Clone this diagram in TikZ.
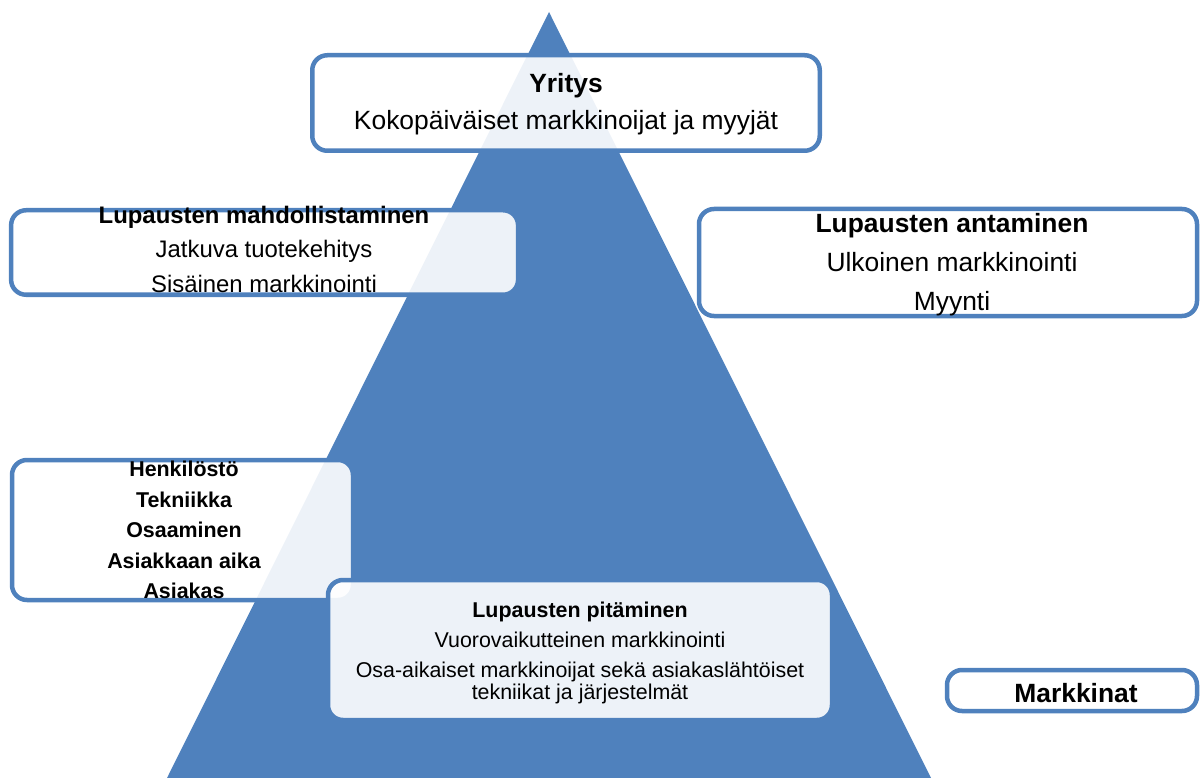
\documentclass[tikz,border=0pt]{standalone}
\usepackage{fontspec}
\setmainfont{Liberation Sans}
\definecolor{pyramid}{HTML}{4F81BD}
\begin{document}
\begin{tikzpicture}[x=1pt,y=-1pt,
  panel/.style={draw=pyramid, line width=4.5pt, fill=white, fill opacity=0.9,
    rounded corners=15pt, inner sep=0pt, rectangle},
  txt/.style={anchor=base, inner sep=0pt, text=black},
  big/.style={txt, font=\fontsize{26.4}{30}\selectfont},
  bigb/.style={txt, font=\fontsize{26.4}{30}\selectfont\bfseries},
  mid/.style={txt, font=\fontsize{23.9}{27}\selectfont},
  midb/.style={txt, font=\fontsize{23.9}{27}\selectfont\bfseries},
  small/.style={txt, font=\fontsize{21.4}{22}\selectfont},
  smallb/.style={txt, font=\fontsize{21.4}{22}\selectfont\bfseries},
]
\useasboundingbox (0,0) rectangle (1200,778);

% the pyramid
\coordinate (apex) at (549,12);
\coordinate (baseL) at (167,778);
\coordinate (baseR) at (931,778);
\fill[pyramid] (apex) -- (baseR) -- (baseL) -- cycle;

% panels
\node[panel, minimum width=507.5pt, minimum height=95.5pt] (yritysbox) at (566,103) {};
\node[panel, minimum width=507pt, minimum height=84.5pt] (mahdbox) at (264.6,252.5) {};
\node[panel, minimum width=498pt, minimum height=107pt] (antbox) at (948,262.5) {};
\node[panel, minimum width=341pt, minimum height=140pt] (resbox) at (182.5,530) {};
\node[panel, minimum width=504pt, minimum height=140pt] (pitbox) at (580,650) {};
\node[panel, minimum width=250pt, minimum height=41pt] (markbox) at (1072,690.5) {};

% company
\node[bigb] (yritys) at (566,93) {Yritys};
\node[big] (kokop) at (566,130) {Kokopäiväiset markkinoijat ja myyjät};

% enabling promises
\node[midb] (mahd) at (264,224) {Lupausten mahdollistaminen};
\node[mid] (jatk) at (264,258) {Jatkuva tuotekehitys};
\node[mid] (sisa) at (264,292) {Sisäinen markkinointi};

% making promises
\node[bigb] (ant) at (952,233) {Lupausten antaminen};
\node[big] (ulk) at (952,272) {Ulkoinen markkinointi};
\node[big] (myy) at (952,310) {Myynti};

% resources
\node[smallb] (henk) at (184,476) {Henkilöstö};
\node[smallb] (tekn) at (184,507) {Tekniikka};
\node[smallb] (osaa) at (184,537) {Osaaminen};
\node[smallb] (aika) at (184,568) {Asiakkaan aika};
\node[smallb] (asia) at (184,598) {Asiakas};

% keeping promises
\node[smallb] (pit) at (580,617) {Lupausten pitäminen};
\node[small] (vuor) at (580,647) {Vuorovaikutteinen markkinointi};
\node[small] (osa) at (580,677) {Osa-aikaiset markkinoijat sekä asiakaslähtöiset};
\node[small] (osb) at (580,699) {tekniikat ja järjestelmät};

% market
\node[bigb] (mark) at (1076,702) {Markkinat};
\end{tikzpicture}
\end{document}
